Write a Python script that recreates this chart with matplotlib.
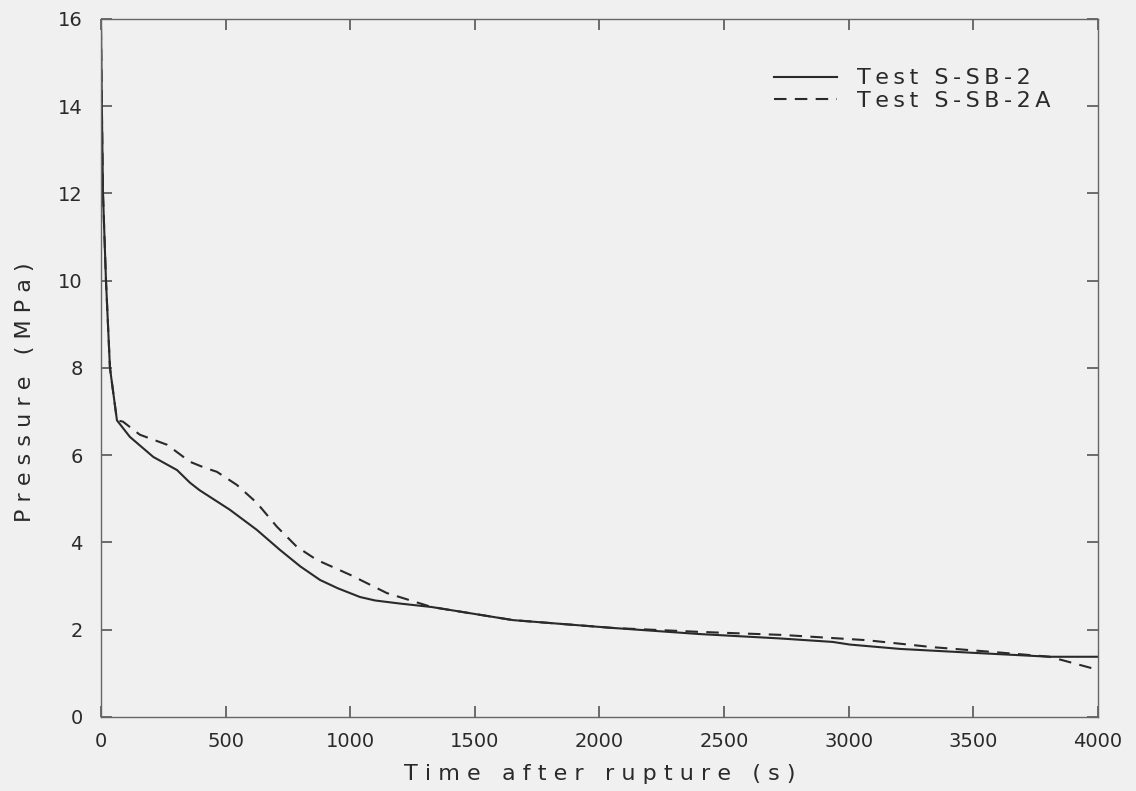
import matplotlib.pyplot as plt

# 读图估计的数据 (s, MPa)
t_sb2 = [0, 3, 8, 20, 36, 64, 116, 210, 305, 357, 395, 517, 625, 718, 800, 879, 950,
         1039, 1100, 1199, 1327, 1653, 2054, 2403, 2724, 2936, 3004, 3205, 3500, 3807, 4000]
p_sb2 = [15.8, 14.2, 12.0, 10.0, 8.0, 6.8, 6.42, 5.96, 5.66, 5.37, 5.2, 4.75, 4.29, 3.83, 3.45, 3.14, 2.95,
         2.75, 2.67, 2.6, 2.52, 2.22, 2.04, 1.9, 1.8, 1.72, 1.66, 1.56, 1.47, 1.38, 1.38]

t_sb2a = [0, 3, 8, 20, 36, 64, 88, 156, 265, 357, 417, 465, 545, 625, 706, 786, 866,
          999, 1147, 1327, 1653, 2054, 2403, 2736, 3072, 3337, 3600, 3807, 4000]
p_sb2a = [15.8, 14.2, 12.0, 10.0, 8.0, 6.8, 6.77, 6.47, 6.24, 5.85, 5.71, 5.62, 5.32, 4.91, 4.36, 3.9, 3.6,
          3.26, 2.84, 2.52, 2.22, 2.04, 1.95, 1.88, 1.76, 1.6, 1.48, 1.38, 1.08]

x_ticks = [0, 500, 1000, 1500, 2000, 2500, 3000, 3500, 4000]
y_ticks = [0, 2, 4, 6, 8, 10, 12, 14, 16]


def spaced(s):
    # 绘图仪字体的字距较宽，用细空格拉开
    return '\u2009'.join(s)


bg = '#f0f0f0'
ink = '#2a2a2a'

fig = plt.figure(figsize=(11.36, 7.91), dpi=100, facecolor=bg)
ax = fig.add_axes([0.0889, 0.0936, 0.8776, 0.8824], facecolor=bg)

ax.plot(t_sb2, p_sb2, color=ink, linewidth=1.5, label=spaced('Test S-SB-2'))
ax.plot(t_sb2a, p_sb2a, color=ink, linewidth=1.5, linestyle=(0, (6, 4)),
        label=spaced('Test S-SB-2A'))

ax.set_xlim(0, 4000)
ax.set_ylim(0, 16)
ax.set_xticks(x_ticks)
ax.set_yticks(y_ticks)

ax.tick_params(direction='in', length=8, width=1.2, color='#555555',
               top=True, right=True, labelsize=14, labelcolor=ink)
ax.tick_params(axis='x', pad=11)
ax.tick_params(axis='y', pad=13)
for s in ax.spines.values():
    s.set_color('#666666')
    s.set_linewidth(1.0)

ax.set_xlabel('T i m e   a f t e r   r u p t u r e   ( s )', fontsize=16, color=ink, labelpad=9)
ax.set_ylabel('P r e s s u r e   ( M P a )', fontsize=16, color=ink, labelpad=10)
ax.yaxis.set_label_coords(-0.066, 0.466)

leg = ax.legend(loc='upper right', bbox_to_anchor=(0.972, 0.958), frameon=False,
                fontsize=16, handlelength=2.8, handletextpad=0.9, labelspacing=0.12)
for txt in leg.get_texts():
    txt.set_color(ink)

fig.savefig('out.png', dpi=100, facecolor=bg)
